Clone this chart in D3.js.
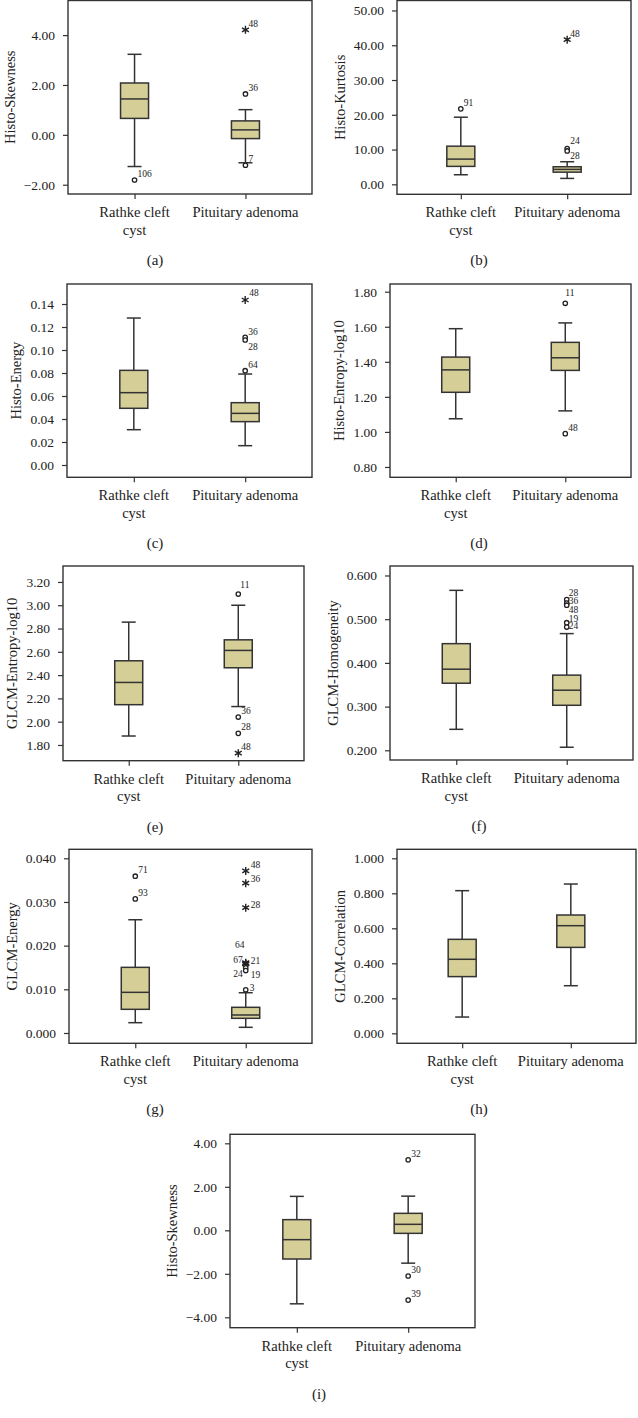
<!DOCTYPE html>
<html>
<head>
<meta charset="utf-8">
<script src="https://cdn.jsdelivr.net/npm/d3@7"></script>
<style>
  html, body { margin: 0; padding: 0; background: #fff; }
  svg { display: block; }
  text { font-family: "Liberation Serif", "Times New Roman", serif; fill: #222; }
</style>
</head>
<body>
<svg id="chart" width="638" height="1418"></svg>
<script>
// ---------------- DATA ----------------
const categories = ["Rathke cleft\ncyst", "Pituitary adenoma"];
const panelLetters = ["(a)", "(b)", "(c)", "(d)", "(e)", "(f)", "(g)", "(h)", "(i)"];
const yLabels = ["Histo-Skewness", "Histo-Kurtosis", "Histo-Energy", "Histo-Entropy-log10",
  "GLCM-Entropy-log10", "GLCM-Homogeneity", "GLCM-Energy", "GLCM-Correlation", "Histo-Skewness"];

// per panel: [Rathke cleft cyst, Pituitary adenoma]
const whiskerLow  = [[-1.27, -1.12], [2.75, 1.7], [0.0307, 0.0168], [1.075, 1.12], [1.877, 2.13],
  [0.248, 0.207], [0.00236, 0.0013], [0.093, 0.272], [-3.38, -1.51]];
const q1          = [[0.66, -0.15], [5.16, 3.5], [0.0493, 0.0377], [1.226, 1.351], [2.146, 2.463],
  [0.3535, 0.303], [0.00542, 0.00336], [0.324, 0.491], [-1.32, -0.14]];
const median      = [[1.44, 0.20], [7.25, 4.3], [0.0629, 0.0449], [1.354, 1.423], [2.337, 2.612],
  [0.3856, 0.3375], [0.00931, 0.00412], [0.423, 0.615], [-0.43, 0.275]];
const q3          = [[2.08, 0.56], [10.97, 5.05], [0.0823, 0.0542], [1.427, 1.511], [2.523, 2.703],
  [0.444, 0.372], [0.01503, 0.00588], [0.537, 0.676], [0.49, 0.78]];
const whiskerHigh = [[3.23, 1.01], [19.3, 6.5], [0.1278, 0.0791], [1.589, 1.622], [2.855, 3.0],
  [0.566, 0.467], [0.02593, 0.00922], [0.815, 0.853], [1.56, 1.57]];

// outliers: [category index, case id, value, marker ("o" = outlier, "*" = extreme)]
const outliers = [
  [[0, "106", -1.81, "o"], [1, "48", 4.21, "*"], [1, "36", 1.64, "o"], [1, "7", -1.22, "o"]],
  [[0, "91", 21.7, "o"], [1, "48", 41.6, "*"], [1, "24", 10.3, "o"], [1, "28", 9.6, "o"]],
  [[1, "48", 0.1435, "*"], [1, "36", 0.111, "o"], [1, "28", 0.1087, "o"], [1, "64", 0.082, "o"]],
  [[1, "11", 1.734, "o"], [1, "48", 0.99, "o"]],
  [[1, "11", 3.096, "o"], [1, "36", 2.04, "o"], [1, "28", 1.90, "o"], [1, "48", 1.73, "*"]],
  [[1, "28", 0.545, "o"], [1, "36", 0.537, "o"], [1, "48", 0.532, "o"], [1, "19", 0.492, "o"], [1, "24", 0.482, "o"]],
  [[0, "71", 0.0359, "o"], [0, "93", 0.0307, "o"], [1, "48", 0.0371, "*"], [1, "36", 0.0343, "*"],
   [1, "28", 0.0287, "*"], [1, "64", 0.0161, "*"], [1, "67", 0.0159, "*"], [1, "21", 0.0158, "*"],
   [1, "24", 0.0149, "o"], [1, "19", 0.0143, "o"], [1, "3", 0.0099, "o"]],
  [],
  [[1, "32", 3.24, "o"], [1, "30", -2.10, "o"], [1, "39", -3.21, "o"]]
];

const tickValues = [
  [-2, 0, 2, 4], [0, 10, 20, 30, 40, 50], [0, 0.02, 0.04, 0.06, 0.08, 0.10, 0.12, 0.14],
  [0.8, 1.0, 1.2, 1.4, 1.6, 1.8], [1.8, 2.0, 2.2, 2.4, 2.6, 2.8, 3.0, 3.2],
  [0.2, 0.3, 0.4, 0.5, 0.6], [0, 0.01, 0.02, 0.03, 0.04], [0, 0.2, 0.4, 0.6, 0.8, 1.0],
  [-4, -2, 0, 2, 4]
];
const tickFormats = [".2f", ".2f", ".2f", ".2f", ".2f", ".3f", ".3f", ".3f", ".2f"];

// ---------------- LAYOUT (positions / axis extents) ----------------
const layout = [
  {left: 68,  right: 312, top: 0.5,  bottom: 194,  yMin: -2.372, yMax: 5.388,  cx: 155},
  {left: 397, right: 631, top: 0.5,  bottom: 194.3, yMin: -2.87, yMax: 52.87,  cx: 479},
  {left: 67,  right: 312, top: 284,  bottom: 477.3, yMin: -0.0107, yMax: 0.1574, cx: 155},
  {left: 390, right: 631, top: 284,  bottom: 477.3, yMin: 0.741, yMax: 1.844,  cx: 479},
  {left: 63,  right: 304, top: 566,  bottom: 760.7, yMin: 1.665, yMax: 3.337,  cx: 155},
  {left: 390, right: 633, top: 566,  bottom: 760,  yMin: 0.1778, yMax: 0.6217, cx: 479},
  {left: 69,  right: 312, top: 849.3, bottom: 1043.3, yMin: -0.00236, yMax: 0.04206, cx: 155},
  {left: 397, right: 636, top: 849.3, bottom: 1043.3, yMin: -0.057, yMax: 1.0514, cx: 479},
  {left: 230, right: 475, top: 1134.3, bottom: 1327.7, yMin: -4.478, yMax: 4.414, cx: 319}
];
// outlier label offsets (relative to marker): default dx 3, dy -3, start anchor
const labelOffsets = {
  "1:28": {dx: 3, dy: 8}, "1:24": {dx: 3, dy: -5},
  "2:36": {dx: 3, dy: -2}, "2:28": {dx: 3, dy: 10}, "2:48": {dx: 4, dy: -4},
  "3:11": {dx: 0, dy: -7},
  "4:11": {dx: 2, dy: -6},
  "5:28": {dx: 2, dy: -4}, "5:36": {dx: 2, dy: 1}, "5:48": {dx: 2, dy: 8}, "5:19": {dx: 2, dy: -1}, "5:24": {dx: 2, dy: 2},
  "6:64": {dx: -6, dy: -15, anchor: "middle"}, "6:67": {dx: -3, dy: -1, anchor: "end"}, "6:21": {dx: 5, dy: 0},
  "6:24": {dx: -3, dy: 9, anchor: "end"}, "6:19": {dx: 5, dy: 7}, "6:3": {dx: 4, dy: 1},
  "6:48": {dx: 5, dy: -3}, "6:36": {dx: 5, dy: -1}, "6:28": {dx: 5, dy: 0}
};

const boxFill = "#d5ce97";
const ink = "#333";

const svg = d3.select("#chart");

layout.forEach((L, i) => {
  const g = svg.append("g");
  const y = d3.scaleLinear().domain([L.yMin, L.yMax]).range([L.bottom, L.top]);
  const x = d3.scalePoint().domain(d3.range(categories.length)).range([L.left, L.right]).padding(0.6);

  // frame
  g.append("rect").attr("x", L.left).attr("y", L.top)
    .attr("width", L.right - L.left).attr("height", L.bottom - L.top)
    .attr("fill", "none").attr("stroke", ink).attr("stroke-width", 1.4);

  // y axis
  const yAxis = g.append("g").attr("transform", `translate(${L.left},0)`)
    .call(d3.axisLeft(y).tickValues(tickValues[i]).tickFormat(d3.format(tickFormats[i]))
      .tickSize(5).tickPadding(8));
  yAxis.select(".domain").remove();
  yAxis.selectAll(".tick line").attr("stroke", ink).attr("stroke-width", 1.2);
  yAxis.selectAll(".tick text").attr("font-size", 13.5).attr("fill", "#222")
    .attr("font-family", "'Liberation Serif', serif");

  let tickLeft = L.left;
  yAxis.selectAll(".tick text").each(function () {
    const b = this.getBBox();
    tickLeft = Math.min(tickLeft, L.left + b.x);
  });

  // y label
  g.append("text")
    .attr("transform", `translate(${tickLeft - 9},${(L.top + L.bottom) / 2}) rotate(-90)`)
    .attr("text-anchor", "middle").attr("font-size", 14.5)
    .text(yLabels[i]);

  // x axis ticks
  const xAxis = g.append("g").attr("transform", `translate(0,${L.bottom})`)
    .call(d3.axisBottom(x).tickSize(5).tickFormat(""));
  xAxis.select(".domain").remove();
  xAxis.selectAll(".tick line").attr("stroke", ink).attr("stroke-width", 1.2);

  // category labels
  categories.forEach((c, ci) => {
    const lines = c.split("\n");
    const t = g.append("text").attr("text-anchor", "middle").attr("font-size", 14.5)
      .attr("x", x(ci)).attr("y", L.bottom + 23);
    lines.forEach((ln, li) => {
      t.append("tspan").attr("x", x(ci)).attr("dy", li === 0 ? 0 : 17.5).text(ln);
    });
  });

  // boxes
  const boxW = 28, capW = 14;
  categories.forEach((c, ci) => {
    const cx = x(ci);
    const bg = g.append("g").attr("stroke", ink).attr("stroke-width", 1.5);
    bg.append("line").attr("x1", cx).attr("x2", cx).attr("y1", y(whiskerHigh[i][ci])).attr("y2", y(q3[i][ci]));
    bg.append("line").attr("x1", cx).attr("x2", cx).attr("y1", y(q1[i][ci])).attr("y2", y(whiskerLow[i][ci]));
    bg.append("line").attr("x1", cx - capW / 2).attr("x2", cx + capW / 2)
      .attr("y1", y(whiskerHigh[i][ci])).attr("y2", y(whiskerHigh[i][ci]));
    bg.append("line").attr("x1", cx - capW / 2).attr("x2", cx + capW / 2)
      .attr("y1", y(whiskerLow[i][ci])).attr("y2", y(whiskerLow[i][ci]));
    bg.append("rect").attr("x", cx - boxW / 2).attr("width", boxW)
      .attr("y", y(q3[i][ci])).attr("height", y(q1[i][ci]) - y(q3[i][ci]))
      .attr("fill", boxFill);
    bg.append("line").attr("x1", cx - boxW / 2).attr("x2", cx + boxW / 2)
      .attr("y1", y(median[i][ci])).attr("y2", y(median[i][ci]));
  });

  // outliers
  outliers[i].forEach(([ci, id, v, m]) => {
    const px = x(ci), py = y(v);
    if (m === "o") {
      g.append("circle").attr("cx", px).attr("cy", py).attr("r", 2.2)
        .attr("fill", "#fff").attr("stroke", "#222").attr("stroke-width", 1.3);
    } else {
      const r = 4;
      const p = d3.path();
      [90, 30, 150].forEach(a => {
        const rad = a * Math.PI / 180;
        p.moveTo(px - r * Math.cos(rad), py - r * Math.sin(rad));
        p.lineTo(px + r * Math.cos(rad), py + r * Math.sin(rad));
      });
      g.append("path").attr("d", p.toString()).attr("stroke", "#222").attr("stroke-width", 1.4).attr("fill", "none");
    }
    const off = labelOffsets[i + ":" + id] || {dx: 3, dy: -3};
    g.append("text").attr("x", px + off.dx).attr("y", py + off.dy)
      .attr("text-anchor", off.anchor || "start").attr("font-size", 9.5).text(id);
  });

  // caption
  g.append("text").attr("x", L.cx).attr("y", L.bottom + 71).attr("text-anchor", "middle")
    .attr("font-size", 15).text(panelLetters[i]);
});
</script>
</body>
</html>
